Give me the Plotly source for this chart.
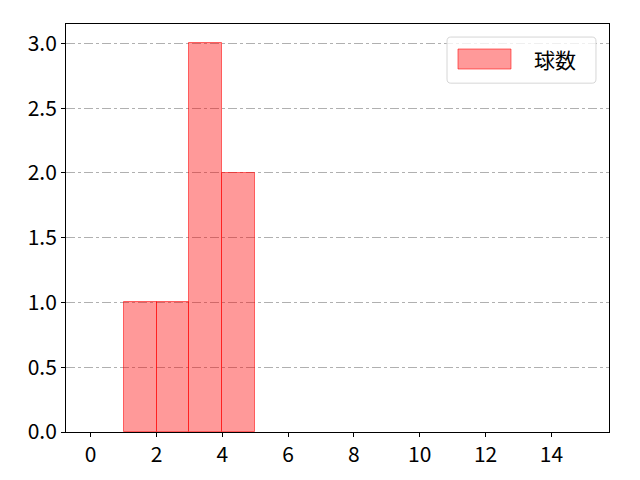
import plotly.graph_objects as go

# histogram bins (left edges) and counts
bin_left = [1, 2, 3, 4]
counts = [1, 1, 3, 2]
bin_width = 1
label = "球数"

x_ticks = [0, 2, 4, 6, 8, 10, 12, 14]
y_ticks = [0.0, 0.5, 1.0, 1.5, 2.0, 2.5, 3.0]

centers = [b + bin_width / 2 for b in bin_left]
fill = "rgba(255,0,0,0.4)"
edge = "rgba(255,0,0,0.55)"

fig = go.Figure()
fig.add_trace(go.Bar(
    x=centers, y=counts, width=bin_width, name=label,
    marker=dict(color=fill, line=dict(color=edge, width=1)),
    showlegend=False,
))

font = "Noto Sans CJK JP"
fig.update_layout(
    width=640, height=480,
    margin=dict(l=58, r=39, t=16, b=56),
    plot_bgcolor="white", paper_bgcolor="white",
    font=dict(family=font, size=21, color="black"),
    bargap=0,
)


def rounded_box(x0, y0, x1, y1, rx, ry):
    return (f"M {x0+rx},{y0} L {x1-rx},{y0} Q {x1},{y0} {x1},{y0+ry} "
            f"L {x1},{y1-ry} Q {x1},{y1} {x1-rx},{y1} L {x0+rx},{y1} "
            f"Q {x0},{y1} {x0},{y1-ry} L {x0},{y0+ry} Q {x0},{y0} {x0+rx},{y0} Z")


# matplotlib-style legend drawn by hand
fig.add_shape(type="path", xref="paper", yref="paper",
              path=rounded_box(0.7017, 0.855, 0.976, 0.968, 0.007, 0.01),
              fillcolor="rgba(255,255,255,0.8)", line=dict(color="#d6d6d6", width=1))
fig.add_shape(type="rect", xref="paper", yref="paper",
              x0=0.7219, x1=0.8195, y0=0.8897, y1=0.9387,
              fillcolor=fill, line=dict(color=edge, width=1))
fig.add_annotation(xref="paper", yref="paper", x=0.858, y=0.914,
                   xanchor="left", yanchor="middle", text=label, showarrow=False,
                   font=dict(size=21))

fig.update_xaxes(range=[-0.75, 15.75], tickvals=x_ticks,
                 ticks="outside", ticklen=4, tickcolor="black",
                 showline=True, linecolor="black", linewidth=1, mirror=True,
                 showgrid=False, zeroline=False)
fig.update_yaxes(range=[0, 3.15], tickvals=y_ticks,
                 ticktext=[f"{v:.1f}" for v in y_ticks],
                 ticks="outside", ticklen=4, tickcolor="black",
                 showline=True, linecolor="black", linewidth=1, mirror=True,
                 showgrid=True, gridcolor="#b0b0b0", griddash="dashdot",
                 gridwidth=1, zeroline=False)

fig.write_html("out.html")
